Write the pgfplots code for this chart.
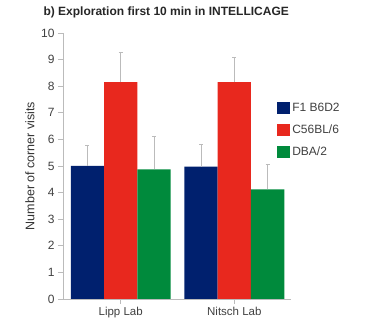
\documentclass[border=0pt]{standalone}
\usepackage{fontspec}
\setmainfont{Liberation Sans}
\usepackage{pgfplots}
\pgfplotsset{compat=1.18}
\definecolor{cblue}{HTML}{00206E}
\definecolor{cred}{HTML}{E8281E}
\definecolor{cgreen}{HTML}{008A3C}
\definecolor{axgray}{HTML}{BBBBBB}
\begin{document}
\begin{tikzpicture}
\useasboundingbox (-63pt,-24pt) rectangle (304pt,299pt);
\begin{axis}[
  at={(0pt,0pt)}, anchor=south west,
  scale only axis, width=228pt, height=266pt,
  ybar=0pt, bar width=33.3pt,
  xmin=-0.508, xmax=1.499, ymin=0, ymax=10,
  axis x line*=bottom, axis y line*=left,
  axis line style={axgray, line width=0.6pt},
  xtick={0,1}, xticklabels={Lipp Lab, Nitsch Lab},
  ytick={0,1,...,10},
  tick align=outside, major tick length=5pt,
  tick style={axgray, line width=0.6pt},
  /pgf/number format/assume math mode=true,
  ticklabel style={font=\fontsize{12}{14}\selectfont, text=black!75},
  xticklabel style={font=\fontsize{11.5}{14}\selectfont},
  ylabel={Number of corner visits},
  every axis y label/.style={at={(axis description cs:-0.145,0.5)}, rotate=90, anchor=center,
    font=\fontsize{12.5}{15}\selectfont, text=black!80},
  legend style={at={(axis description cs:0.939,0.745)}, anchor=north west, draw=none, fill=none,
    font=\fontsize{12}{14}\selectfont, text=black!75, row sep=8pt, inner sep=0pt},
  legend cell align=left,
  legend image code/.code={\fill[#1,draw=none] (0pt,-6pt) rectangle (13pt,6pt);},
  error bars/y dir=plus, error bars/y explicit,
  error bars/error bar style={axgray, line width=0.7pt},
  error bars/error mark options={rotate=90, axgray, mark size=2pt, line width=0.7pt},
]
\addplot[fill=cblue, draw=none] coordinates {(0,5.0) +- (0,0.76) (1,4.98) +- (0,0.83)};
\addplot[fill=cred, draw=none] coordinates {(0,8.15) +- (0,1.11) (1,8.15) +- (0,0.93)};
\addplot[fill=cgreen, draw=none] coordinates {(0,4.87) +- (0,1.24) (1,4.12) +- (0,0.94)};
\legend{F1 B6D2, C56BL/6, DBA/2}
\end{axis}
\node[anchor=west, font=\bfseries\fontsize{12}{14}\selectfont, text=black!85] at (-23pt,287pt) {b) Exploration first 10 min in INTELLICAGE};
\end{tikzpicture}
\end{document}
